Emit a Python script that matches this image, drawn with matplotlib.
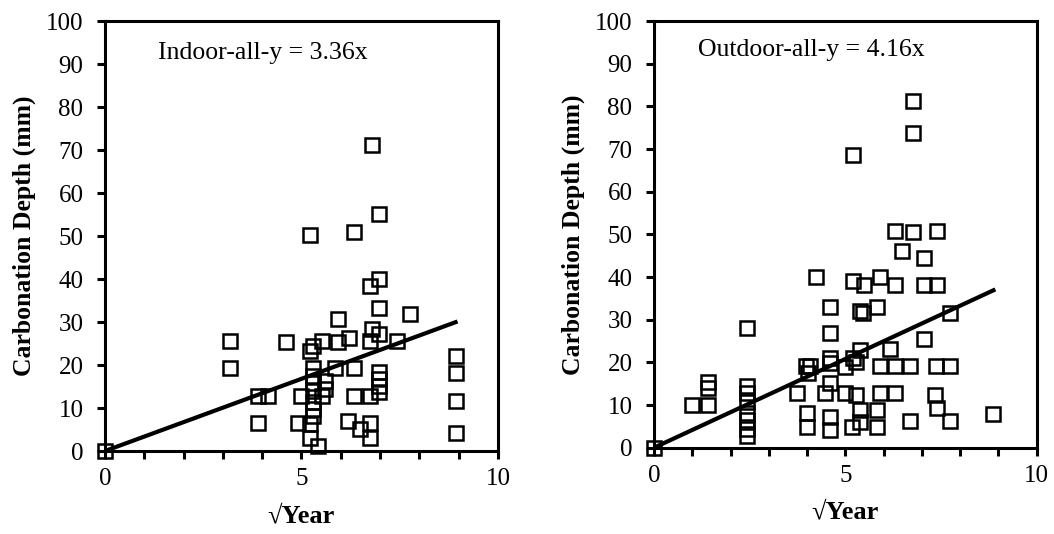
import numpy as np
import matplotlib
matplotlib.use('Agg')
from matplotlib import pyplot as plt
from matplotlib.ticker import MultipleLocator

plt.rcParams['font.family'] = ['Liberation Serif', 'DejaVu Serif']

# indoor points (sqrt year, depth mm)
indoor_x = [0, 6.80, 6.96, 5.21, 6.34, 6.96, 6.74, 6.96, 7.76, 5.93,
            3.18, 3.18, 4.60, 5.21, 5.30, 5.51, 5.93, 6.20, 6.74, 6.80,
            6.96, 7.44, 8.92, 8.92, 8.92, 8.92, 3.90, 4.15, 3.90, 4.98,
            4.92, 5.21, 5.21, 5.42, 5.30, 5.30, 5.30, 5.30, 5.30, 5.30,
            5.30, 5.51, 5.59, 5.59, 5.86, 6.34, 6.34, 6.74, 6.19, 6.48,
            6.74, 6.74, 6.96, 6.96, 6.96, 6.96]
indoor_y = [0, 71.2, 55.1, 50.2, 50.9, 40.1, 38.3, 33.2, 31.9, 30.6,
            25.6, 19.3, 25.3, 23.3, 24.5, 25.6, 25.3, 26.2, 25.6, 28.4,
            27.2, 25.6, 22.2, 18.1, 11.7, 4.3, 12.8, 12.8, 6.5, 12.8,
            6.5, 6.2, 3.1, 1.2, 19.4, 17.5, 15.9, 14.0, 11.3, 9.7,
            8.2, 12.8, 14.4, 16.3, 19.3, 19.3, 12.8, 12.8, 7.0, 5.2,
            6.5, 3.1, 18.3, 16.7, 15.2, 13.8]

# outdoor points
outdoor_x = [0, 6.78, 6.78, 5.20, 6.31, 6.77, 7.40, 6.48, 7.05, 4.24,
             5.20, 5.90, 5.48, 6.31, 7.05, 7.40, 4.59, 5.37, 5.46, 5.83,
             7.74, 2.44, 4.59, 7.05, 5.39, 6.16, 4.59, 5.20, 5.27, 3.97,
             4.07, 4.03, 4.59, 5.00, 5.90, 6.31, 6.70, 7.37, 7.74, 1.42,
             1.42, 0.98, 1.42, 2.44, 2.44, 2.44, 2.44, 2.44, 2.44, 2.44,
             3.74, 4.46, 4.59, 5.00, 5.29, 5.90, 6.31, 7.33, 7.40, 4.01,
             4.01, 4.59, 4.59, 5.17, 5.37, 5.37, 5.83, 5.83, 6.70, 7.74,
             8.87]
outdoor_y = [0, 81.2, 73.7, 68.6, 50.8, 50.6, 50.8, 46.1, 44.5, 40.0,
             39.1, 40.0, 38.1, 38.1, 38.1, 38.1, 32.9, 32.0, 31.6, 32.9,
             31.6, 28.1, 26.9, 25.5, 23.0, 23.1, 21.0, 21.0, 20.2, 19.1,
             19.1, 17.5, 19.8, 18.8, 19.1, 19.1, 19.1, 19.1, 19.1, 15.5,
             14.0, 10.0, 10.0, 14.4, 12.8, 10.8, 8.2, 6.5, 4.5, 2.7,
             12.8, 12.8, 15.1, 12.8, 12.4, 12.8, 12.8, 12.4, 9.3, 8.1,
             4.9, 7.1, 4.2, 4.9, 8.9, 6.1, 8.9, 4.9, 6.3, 6.3,
             7.9]

slopes = [3.36, 4.16]
labels = ['Indoor-all-y = 3.36x', 'Outdoor-all-y = 4.16x']
label_pos = [(0.135, 0.927), (0.115, 0.932)]

fig = plt.figure(figsize=(10.54, 5.34), dpi=100)
ax1 = fig.add_axes([0.0996, 0.1554, 0.3729, 0.805])
ax2 = fig.add_axes([0.6205, 0.1616, 0.3631, 0.799])

panels = [(ax1, indoor_x, indoor_y, slopes[0], labels[0], label_pos[0]),
          (ax2, outdoor_x, outdoor_y, slopes[1], labels[1], label_pos[1])]
for ax, xs, ys, k, lab, pos in panels:
    ax.plot(xs, ys, 's', ms=10, mfc='none', mec='black', mew=1.8, clip_on=False, zorder=3)
    xe = max(xs)
    ax.plot([0, xe], [0, k * xe], color='black', lw=3, zorder=4)
    ax.set_xlim(0, 10)
    ax.set_ylim(0, 100)
    ax.xaxis.set_major_locator(MultipleLocator(5))
    ax.xaxis.set_minor_locator(MultipleLocator(1))
    ax.yaxis.set_major_locator(MultipleLocator(10))
    ax.tick_params(axis='y', which='major', direction='out', length=5.5, width=2.2,
                   labelsize=18, pad=10)
    ax.tick_params(axis='x', which='major', direction='out', length=5.5, width=2.2,
                   labelsize=18, pad=7)
    ax.tick_params(axis='x', which='minor', direction='out', length=5.5, width=2.2)
    for s in ax.spines.values():
        s.set_linewidth(2.2)
    ax.set_xlabel('\u221aYear', fontsize=19, fontweight='bold', labelpad=10)
    ax.set_ylabel('Carbonation Depth (mm)', fontsize=18.5, fontweight='bold', labelpad=7)
    ax.text(pos[0], pos[1], lab, transform=ax.transAxes, fontsize=18.5, va='center')

fig.savefig('out.png', dpi=100)
